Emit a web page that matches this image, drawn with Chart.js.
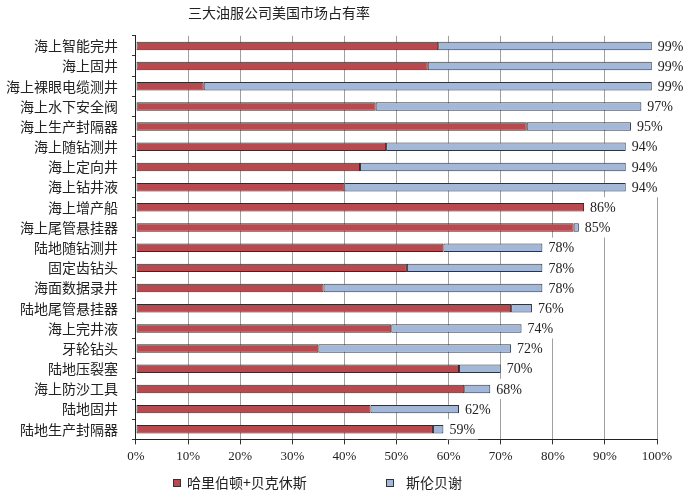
<!DOCTYPE html>
<html><head><meta charset="utf-8">
<script src="https://cdn.jsdelivr.net/npm/chart.js@4.4.1/dist/chart.umd.min.js"></script>
<style>html,body{margin:0;padding:0;background:#fff;}#wrap{width:700px;height:498px;position:relative;}</style>
</head><body><div id="wrap"><canvas id="c"></canvas></div>
<script>
const chartTitle = '三大油服公司美国市场占有率';
const seriesNames = ['哈里伯顿+贝克休斯', '斯伦贝谢'];
const categories = ['海上智能完井','海上固井','海上裸眼电缆测井','海上水下安全阀','海上生产封隔器','海上随钻测井','海上定向井','海上钻井液','海上增产船','海上尾管悬挂器','陆地随钻测井','固定齿钻头','海面数据录井','陆地尾管悬挂器','海上完井液','牙轮钻头','陆地压裂塞','海上防沙工具','陆地固井','陆地生产封隔器'];
const hbShare  = [58,56,13,46,75,48,43,40,86,84,59,52,36,72,49,35,62,63,45,57];
const slbShare = [41,43,86,51,20,46,51,54, 0, 1,19,26,42, 4,25,37, 8, 5,17, 2];
const totalShare = [99,99,99,97,95,94,94,94,86,85,78,78,78,76,74,72,70,68,62,59];
const xTickValues = [0,10,20,30,40,50,60,70,80,90,100];

const redColor = '#b84a4f', blueColor = '#a3b8d8';
const cjk = "'Noto Sans CJK SC','Noto Sans',sans-serif";
const serif = "'Liberation Serif','DejaVu Serif',serif";

const shiftPlugin = {
  id: 'shiftBlocks',
  afterLayout(chart) {
    const t = chart.titleBlock;
    if (t) { const c = (t.left + t.right) / 2; const d = 279 - c; t.left += d; t.right += d; }
  }
};

const labelPlugin = {
  id: 'totalLabels',
  afterDatasetsDraw(chart) {
    const ctx = chart.ctx;
    const meta = chart.getDatasetMeta(1);
    const ys = chart.scales.y;
    const rowH = Math.abs(ys.getPixelForValue(1) - ys.getPixelForValue(0));
    ctx.save();
    ctx.font = '14px ' + serif;
    ctx.textBaseline = 'middle';
    ctx.textAlign = 'left';
    meta.data.forEach((el, i) => {
      const txt = totalShare[i] + '%';
      const w = ctx.measureText(txt).width;
      const x0 = el.x + 3;
      ctx.fillStyle = '#ffffff';
      ctx.fillRect(x0, el.y - rowH / 2, w + 6, rowH);
      ctx.fillStyle = '#222';
      ctx.fillText(txt, el.x + 6, el.y + 1);
    });
    ctx.restore();
  }
};

const legendPlugin = {
  id: 'customLegend',
  afterDraw(chart) {
    const ctx = chart.ctx;
    const y = 483;
    const items = [
      {box: 173, text: 187, color: redColor, label: chart.data.datasets[0].label},
      {box: 386, text: 406, color: blueColor, label: chart.data.datasets[1].label}
    ];
    ctx.save();
    ctx.font = '14px ' + cjk;
    ctx.textBaseline = 'middle';
    items.forEach(it => {
      ctx.fillStyle = it.color;
      ctx.fillRect(it.box, y - 4, 8, 8);
      ctx.strokeStyle = '#333';
      ctx.lineWidth = 1;
      ctx.strokeRect(it.box + 0.5, y - 3.5, 7, 7);
      ctx.fillStyle = '#222';
      ctx.fillText(it.label, it.text, y);
    });
    ctx.restore();
  }
};

new Chart(document.getElementById('c'), {
  type: 'bar',
  data: {
    labels: categories,
    datasets: [
      {label: seriesNames[0], data: hbShare, backgroundColor: redColor, borderColor: '#3a2626', borderWidth: 1, borderSkipped: false, barPercentage: 0.42, categoryPercentage: 1},
      {label: seriesNames[1], data: slbShare, backgroundColor: blueColor, borderColor: '#2c3440', borderWidth: 1, borderSkipped: false, barPercentage: 0.42, categoryPercentage: 1}
    ]
  },
  options: {
    indexAxis: 'y',
    responsive: true,
    maintainAspectRatio: false,
    animation: false,
    layout: {padding: {left: 6, right: 43, top: 0, bottom: 30}},
    plugins: {
      legend: {display: false},
      tooltip: {enabled: false},
      title: {display: true, text: chartTitle, color: '#222', font: {size: 14, family: cjk, weight: 'normal'}, padding: {top: 4, bottom: 15}}
    },
    scales: {
      x: {
        stacked: true, min: 0, max: 100,
        afterBuildTicks(axis) { axis.ticks = xTickValues.map(v => ({value: v})); },
        ticks: {callback: v => v + '%', color: '#222', font: {size: 13, family: serif}, padding: 4, maxRotation: 0},
        grid: {color: '#a0a0a0', lineWidth: 1, tickColor: '#333', tickLength: 5},
        border: {color: '#222', width: 1}
      },
      y: {
        stacked: true,
        afterFit(scale) { scale.width -= 14; },
        ticks: {color: '#222', font: {size: 14, family: cjk}, padding: 14},
        grid: {drawOnChartArea: false, drawTicks: true, tickLength: 4, tickColor: '#333', offset: true},
        border: {color: '#222', width: 1}
      }
    }
  },
  plugins: [shiftPlugin, labelPlugin, legendPlugin]
});
</script>
</body></html>
